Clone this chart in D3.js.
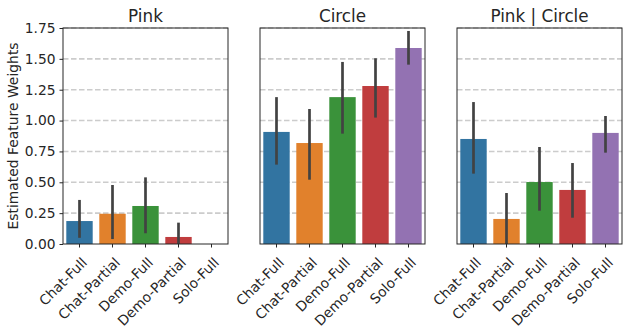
<!DOCTYPE html>
<html><head><meta charset="utf-8">
<script src="https://cdn.jsdelivr.net/npm/d3@7"></script>
<style>body{margin:0;background:#fff}svg{display:block;font-family:"DejaVu Sans",sans-serif}</style>
</head><body><svg id="c" width="628" height="333"></svg>
<script>
const categories = ["Chat-Full","Chat-Partial","Demo-Full","Demo-Partial","Solo-Full"];
const panels = ["Pink","Circle","Pink | Circle"];
const pinkValues = [0.186,0.245,0.308,0.057,0];
const pinkLow = [0.05,0.04,0.087,0.0,null];
const pinkHigh = [0.357,0.478,0.54,0.173,null];
const circleValues = [0.908,0.818,1.19,1.28,1.588];
const circleLow = [0.643,0.521,0.894,1.024,1.453];
const circleHigh = [1.19,1.094,1.475,1.505,1.726];
const bothValues = [0.851,0.203,0.502,0.438,0.9];
const bothLow = [0.57,0.0,0.27,0.213,0.74];
const bothHigh = [1.15,0.413,0.786,0.656,1.037];
const yTicks = [0,0.25,0.5,0.75,1.0,1.25,1.5,1.75];
const colors = ["#3274a1","#e1812c","#3a923a","#c03d3e","#9372b2"];

const series = [
  {title:panels[0], v:pinkValues, lo:pinkLow, hi:pinkHigh},
  {title:panels[1], v:circleValues, lo:circleLow, hi:circleHigh},
  {title:panels[2], v:bothValues, lo:bothLow, hi:bothHigh}
];
const svg = d3.select("#c");
const lefts = [63,260,457], pw = 165, plotTop = 28, plotBottom = 244;
const y = d3.scaleLinear().domain([0,1.75]).range([plotBottom,plotTop]);

series.forEach((s,i)=>{
  const g = svg.append("g").attr("transform",`translate(${lefts[i]},0)`);
  const x = d3.scaleBand().domain(categories).range([0,pw]).paddingInner(0.2).paddingOuter(0.1);
  g.selectAll("line.grid").data(yTicks.filter(t=>t>0)).enter().append("line")
    .attr("x1",0).attr("x2",pw).attr("y1",d=>y(d)).attr("y2",d=>y(d))
    .attr("stroke","#cccccc").attr("stroke-width",1.6).attr("stroke-dasharray","5.5,2.5");
  g.selectAll("rect.bar").data(s.v).enter().append("rect")
    .attr("x",(d,j)=>x(categories[j])).attr("width",x.bandwidth())
    .attr("y",d=>y(d)).attr("height",d=>y(0)-y(d)).attr("fill",(d,j)=>colors[j]);
  g.selectAll("line.err").data(s.v.map((d,j)=>j).filter(j=>s.lo[j]!==null)).enter().append("line")
    .attr("x1",j=>x(categories[j])+x.bandwidth()/2).attr("x2",j=>x(categories[j])+x.bandwidth()/2)
    .attr("y1",j=>y(s.lo[j])).attr("y2",j=>y(s.hi[j]))
    .attr("stroke","#424242").attr("stroke-width",2.7);
  g.append("rect").attr("x",0).attr("y",plotTop).attr("width",pw).attr("height",plotBottom-plotTop)
    .attr("fill","none").attr("stroke","#262626").attr("stroke-width",1);
  const xa = g.append("g").attr("transform",`translate(0,${plotBottom})`)
    .call(d3.axisBottom(x).tickSize(3.5).tickSizeOuter(0));
  xa.select(".domain").remove();
  xa.selectAll(".tick line").attr("stroke","#262626");
  xa.selectAll(".tick text").attr("font-size",13.8).attr("fill","#262626")
    .attr("font-family","DejaVu Sans").attr("text-anchor","end")
    .attr("transform","translate(-3,8) rotate(-45)").attr("dy","0.7em").attr("dx","0");
  if(i===0){
    const ya = g.append("g").call(d3.axisLeft(y).tickValues(yTicks).tickFormat(d3.format(".2f")).tickSize(3.5));
    ya.select(".domain").remove();
    ya.selectAll(".tick line").attr("stroke","#262626");
    ya.selectAll(".tick text").attr("font-size",13.8).attr("fill","#262626").attr("font-family","DejaVu Sans").attr("x",-7.5);
  }
  g.append("text").attr("x",pw/2).attr("y",22).attr("text-anchor","middle")
    .attr("font-size",16.8).attr("fill","#262626").text(s.title);
});
svg.append("text").attr("transform","translate(18,136) rotate(-90)").attr("text-anchor","middle")
  .attr("font-size",13.9).attr("fill","#262626").text("Estimated Feature Weights");
</script></body></html>
